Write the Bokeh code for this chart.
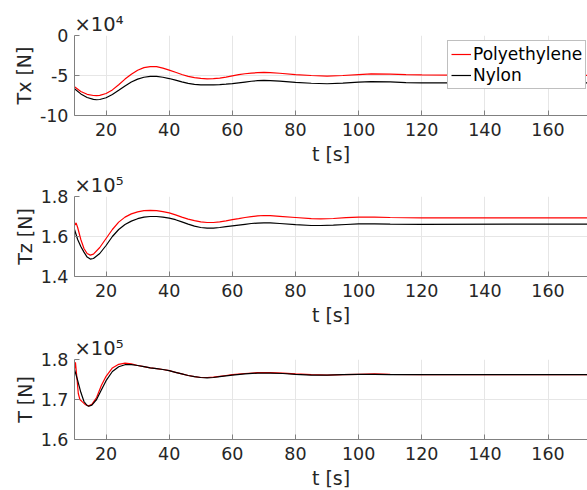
from bokeh.plotting import figure
from bokeh.layouts import column
from bokeh.models import FixedTicker, Range1d, CustomJSTickFormatter
from bokeh.embed import file_html
from bokeh.resources import INLINE

# ---- time samples [s] ----
t_x = [10, 12, 14, 16, 17, 18, 20, 22, 24, 26, 28, 30, 32, 34, 36, 38, 40, 42, 44, 46,
       48, 50, 52, 54, 56, 58, 60, 62, 64, 66, 68, 70, 72, 75, 80, 85, 90, 95, 100, 104,
       110, 115, 120, 130, 140, 150, 160, 172.5]

# Horizontal tension Tx, in units of 1e4 N
tx_poly = [-6.4, -7.0, -7.35, -7.5, -7.52, -7.48, -7.25, -6.8, -6.15, -5.45, -4.85, -4.35,
           -4.02, -3.88, -3.9, -4.08, -4.32, -4.6, -4.88, -5.1, -5.27, -5.37, -5.42, -5.4,
           -5.32, -5.2, -5.05, -4.9, -4.78, -4.7, -4.65, -4.62, -4.63, -4.72, -4.88, -5.0,
           -5.08, -5.0, -4.88, -4.8, -4.82, -4.88, -4.92, -4.96, -4.98, -4.98, -4.98, -4.98]
tx_nylon = [-6.65, -7.3, -7.75, -7.98, -8.03, -8.0, -7.78, -7.38, -6.85, -6.3, -5.82, -5.45,
            -5.22, -5.12, -5.12, -5.22, -5.38, -5.58, -5.8, -5.98, -6.1, -6.16, -6.18, -6.17,
            -6.13, -6.08, -6.02, -5.92, -5.82, -5.72, -5.65, -5.62, -5.64, -5.7, -5.85, -5.97,
            -6.03, -5.95, -5.82, -5.76, -5.8, -5.88, -5.92, -5.93, -5.93, -5.93, -5.93, -5.93]

# Vertical tension Tz, in units of 1e5 N
t_z_poly = [10, 10.5, 11, 12, 13, 14, 15, 16, 18, 20, 22, 24, 26, 28, 30, 32, 34, 36, 38,
            40, 42, 44, 46, 48, 50, 52, 54, 56, 58, 60, 62, 64, 66, 68, 70, 72, 75, 80, 85,
            88, 92, 96, 100, 105, 110, 120, 130, 172.5]
tz_poly = [1.655, 1.668, 1.645, 1.585, 1.54, 1.515, 1.507, 1.512, 1.545, 1.59, 1.635, 1.672,
           1.697, 1.713, 1.723, 1.729, 1.731, 1.729, 1.724, 1.718, 1.708, 1.697, 1.687, 1.679,
           1.673, 1.67, 1.67, 1.673, 1.678, 1.684, 1.689, 1.695, 1.699, 1.703, 1.705, 1.704,
           1.701, 1.695, 1.689, 1.688, 1.69, 1.694, 1.697, 1.697, 1.695, 1.693, 1.693, 1.693]
t_z_nylon = [10, 11, 12, 13, 14, 15, 16, 18, 20, 22, 24, 26, 28, 30, 32, 34, 36, 38, 40, 42,
             44, 46, 48, 50, 52, 54, 56, 58, 60, 62, 64, 66, 68, 70, 72, 75, 80, 85, 88, 92,
             96, 100, 105, 110, 120, 172.5]
tz_nylon = [1.635, 1.585, 1.55, 1.522, 1.497, 1.487, 1.49, 1.515, 1.555, 1.6, 1.635, 1.66,
            1.677, 1.689, 1.697, 1.7, 1.7, 1.697, 1.692, 1.684, 1.673, 1.662, 1.652, 1.645,
            1.642, 1.642, 1.645, 1.649, 1.653, 1.657, 1.661, 1.665, 1.667, 1.668, 1.668, 1.665,
            1.659, 1.655, 1.655, 1.657, 1.66, 1.663, 1.663, 1.662, 1.661, 1.662]

# Total tension T, in units of 1e5 N
t_t_poly = [10, 10.3, 10.7, 11.2, 11.7, 12.5, 13.5, 14.5, 15.5, 17, 18.5, 20, 22, 24, 26, 28,
            30, 32, 34, 36, 38, 40, 42, 44, 46, 48, 50, 52, 54, 56, 58, 60, 64, 68, 72, 76,
            80, 85, 90, 95, 100, 105, 110, 120, 172.5]
tt_poly = [1.775, 1.793, 1.76, 1.715, 1.70, 1.694, 1.687, 1.684, 1.688, 1.705, 1.735, 1.758,
           1.779, 1.788, 1.791, 1.789, 1.785, 1.782, 1.779, 1.777, 1.775, 1.772, 1.768, 1.764,
           1.76, 1.757, 1.755, 1.755, 1.756, 1.758, 1.76, 1.762, 1.765, 1.767, 1.767, 1.766,
           1.764, 1.762, 1.761, 1.762, 1.763, 1.764, 1.763, 1.762, 1.762]
t_t_nylon = [10, 11, 12, 13, 14, 14.5, 15.5, 17, 18.5, 20, 22, 24, 26, 28, 30, 32, 34, 36,
             38, 40, 42, 44, 46, 48, 50, 52, 54, 56, 58, 60, 64, 68, 72, 76, 80, 85, 90, 95,
             100, 105, 110, 120, 172.5]
tt_nylon = [1.775, 1.748, 1.718, 1.695, 1.685, 1.683, 1.686, 1.70, 1.724, 1.747, 1.77, 1.782,
            1.787, 1.787, 1.785, 1.782, 1.779, 1.777, 1.775, 1.772, 1.768, 1.764, 1.76, 1.757,
            1.755, 1.754, 1.755, 1.757, 1.759, 1.761, 1.764, 1.766, 1.766, 1.765, 1.763, 1.761,
            1.761, 1.762, 1.763, 1.763, 1.762, 1.762, 1.762]

x_ticks = [20, 40, 60, 80, 100, 120, 140, 160]
series_names = ["Polyethylene", "Nylon"]
series_colors = ["#ff0000", "#000000"]

FONT = "DejaVu Sans"
TXT = "#262626"
AX = "#808080"
GRID = "#e6e6e6"


def make_panel(ylabel, yr, yticks, fmt_code, multiplier, series, top, bottom, legend=False):
    p = figure(width=587, frame_height=80, x_range=Range1d(10, 172.5),
               y_range=Range1d(*yr), output_backend="svg", toolbar_location=None,
               min_border_left=74, min_border_right=0, min_border_top=top,
               min_border_bottom=bottom, outline_line_color=None, background_fill_color="white",
               border_fill_color="white")
    for (tt, yy), name, col in zip(series, series_names, series_colors):
        if legend:
            p.line(tt, yy, line_color=col, line_width=1.2, legend_label=name)
        else:
            p.line(tt, yy, line_color=col, line_width=1.2)

    p.xaxis.ticker = FixedTicker(ticks=x_ticks)
    p.yaxis.ticker = FixedTicker(ticks=yticks)
    p.yaxis.formatter = CustomJSTickFormatter(code=fmt_code)
    p.xaxis.axis_label = "t [s]"
    p.yaxis.axis_label = ylabel
    for ax in (p.xaxis[0], p.yaxis[0]):
        ax.axis_line_color = AX
        ax.major_tick_line_color = AX
        ax.major_tick_in = 5
        ax.major_tick_out = 0
        ax.minor_tick_line_color = None
        ax.major_label_text_font = FONT
        ax.major_label_text_font_size = "17.5px"
        ax.major_label_text_color = TXT
        ax.axis_label_text_font = FONT
        ax.axis_label_text_font_size = "19px"
        ax.axis_label_text_font_style = "normal"
        ax.axis_label_text_color = TXT
    p.xaxis.major_label_standoff = 7
    p.xaxis.axis_label_standoff = 4
    p.yaxis.major_label_standoff = 6
    p.yaxis.axis_label_standoff = 2
    p.xgrid.grid_line_color = GRID
    p.ygrid.grid_line_color = GRID

    # axis multiplier shown above the top-left corner of the frame
    p.title.text = multiplier
    p.title.align = "left"
    p.title.offset = 0
    p.title.standoff = 0
    p.title.text_font = FONT
    p.title.text_font_size = "19.5px"
    p.title.text_font_style = "normal"
    p.title.text_color = TXT

    if legend:
        lg = p.legend[0]
        lg.location = (373, 26)
        lg.label_text_font = FONT
        lg.label_text_font_size = "17px"
        lg.label_text_color = "#000000"
        lg.border_line_color = AX
        lg.border_line_width = 1
        lg.background_fill_alpha = 1.0
        lg.padding = 3
        lg.spacing = 1
        lg.margin = 0
        lg.glyph_width = 20
        lg.glyph_height = 20
        lg.label_height = 20
        lg.label_standoff = 2
    return p


p1 = make_panel("Tx [N]", (-10, 0), [-10, -5, 0], "return tick.toFixed(0);", "×10⁴",
                [(t_x, tx_poly), (t_x, tx_nylon)], top=35, bottom=56, legend=True)
p2 = make_panel("Tz [N]", (1.4, 1.8), [1.4, 1.6, 1.8], "return tick.toFixed(1);", "×10⁵",
                [(t_z_poly, tz_poly), (t_z_nylon, tz_nylon)], top=25, bottom=56)
p3 = make_panel("T [N]", (1.6, 1.8), [1.6, 1.7, 1.8], "return tick.toFixed(1);", "×10⁵",
                [(t_t_poly, tt_poly), (t_t_nylon, tt_nylon)], top=27, bottom=52)

layout = column(p1, p2, p3, spacing=0)
open("out.html", "w").write(file_html(layout, INLINE))
